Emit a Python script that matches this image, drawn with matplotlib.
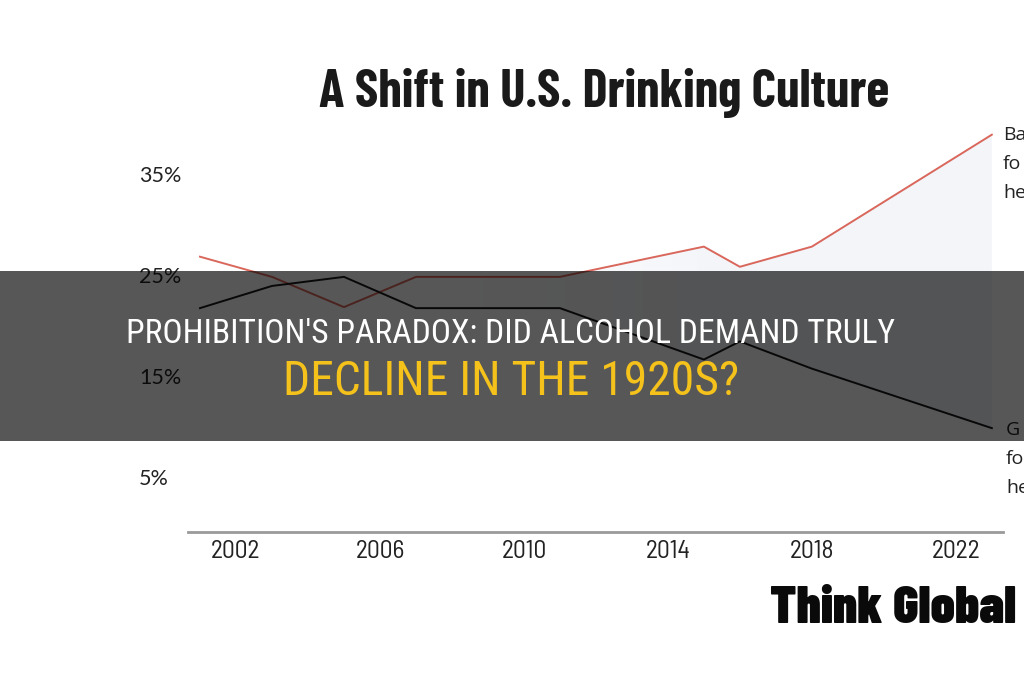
import matplotlib
matplotlib.use("Agg")
import matplotlib.pyplot as plt
import numpy as np
from matplotlib import font_manager
from matplotlib.patches import Rectangle
from matplotlib.colors import LinearSegmentedColormap

# ---- data ----
years = [2001, 2003, 2005, 2007, 2011, 2015, 2016, 2018, 2023]
red_values = [26.9, 24.9, 21.9, 24.9, 24.9, 27.9, 25.9, 27.9, 39.0]
black_values = [21.8, 24.0, 24.9, 21.8, 21.8, 16.7, 18.5, 15.8, 9.9]
x_ticks = [2002, 2006, 2010, 2014, 2018, 2022]
y_ticks = [5, 15, 25, 35]
y_tick_labels = ["5%", "15%", "25%", "35%"]
title = "A Shift in U.S. Drinking Culture"
upper_label = ["Ba", "fo", "he"]
lower_label = ["G", "fo", "he"]
banner_line1 = "PROHIBITION'S PARADOX: DID ALCOHOL DEMAND TRULY"
banner_line2 = "DECLINE IN THE 1920S?"
logo_fit = "Think Global"
logo_text = "Think Global Health"

names = {f.name for f in font_manager.fontManager.ttflist}

def pick(*fams):
    for f in fams:
        if f in names:
            return f
    return "DejaVu Sans"

F_TITLE = pick("Barlow Condensed", "Roboto Condensed", "Archivo Narrow")
F_BANNER = pick("Roboto Condensed", "Archivo Narrow", "Barlow Condensed")
F_TICK = pick("Barlow Semi Condensed", "Barlow Condensed", "Roboto Condensed")
F_LAB = pick("Open Sans", "Lato")
F_Y = pick("Lato", "Open Sans")

W, H = 1024, 680
fig = plt.figure(figsize=(W / 100, H / 100), dpi=100)
fig.patch.set_facecolor("white")
renderer = fig.canvas.get_renderer()

def fx(px):
    return px / W

def fy(py):
    return 1 - py / H

def fit(t, target_w):
    bb = t.get_window_extent(renderer)
    t.set_fontsize(t.get_fontsize() * target_w / bb.width)
    return t.get_fontsize()

# axes: x 188..1003 px, y 124.6..532 px
ax = fig.add_axes([fx(188), fy(532), fx(1003) - fx(188), fy(124.6) - fy(532)])
ax.set_xlim(2000.667, 2023.31)
ax.set_ylim(-0.4, 40)
ax.set_facecolor("none")

# light gradient fill between lines on the right
yrs = np.array(years, dtype=float)
poly = ax.fill_between(yrs, black_values, red_values, facecolor="none", edgecolor="none")
cmap = LinearSegmentedColormap.from_list("g", ["#ffffff", "#ffffff", "#f3f5f9", "#f3f5f9"])
grad = np.linspace(0, 1, 256).reshape(1, -1)
im = ax.imshow(grad, extent=[2000.667, 2023, 0, 40], aspect="auto", cmap=cmap, zorder=0.5)
im.set_clip_path(poly.get_paths()[0], transform=ax.transData)

ax.plot(years, red_values, color="#d9675c", lw=1.4, zorder=3)
ax.plot(years, black_values, color="#1a1a1a", lw=1.4, zorder=3)

for s in ["left", "right", "top"]:
    ax.spines[s].set_visible(False)
ax.spines["bottom"].set_color("#9a9a9a")
ax.spines["bottom"].set_linewidth(2)
ax.set_yticks([])

probe = fig.text(0, 0, "2002", fontsize=16, family=F_TICK)
tick_fs = fit(probe, 50)
probe.remove()
ax.set_xticks(x_ticks)
ax.set_xticklabels([str(v) for v in x_ticks], fontsize=tick_fs, family=F_TICK, color="#222222")
ax.tick_params(axis="x", length=0, pad=6)

for v, lab in zip(y_ticks, y_tick_labels):
    ypx = 175 + (35 - v) * 10.08
    fig.text(fx(139), fy(ypx + 7.5), lab, fontsize=15.5, family=F_Y, color="#222222",
             ha="left", va="baseline")

tt = fig.text(fx(604), fy(107), title, fontsize=32, family=F_TITLE, weight="bold",
              color="#1a1a1a", ha="center", va="baseline")
fit(tt, 572)

for i, t in enumerate(upper_label):
    fig.text(fx(1003), fy(135 + i * 29), t, fontsize=14, family=F_LAB,
             color="#222222", ha="left", va="center")
for i, t in enumerate(lower_label):
    fig.text(fx(1006), fy(430 + i * 29), t, fontsize=14, family=F_LAB,
             color="#222222", ha="left", va="center")

# banner overlay
fig.patches.append(Rectangle((0, fy(441)), 1, fy(271) - fy(441), transform=fig.transFigure,
                             facecolor="#000000", alpha=0.66, edgecolor="none", zorder=10))
b1 = fig.text(fx(510.5), fy(343), banner_line1, fontsize=19, family=F_BANNER, color="white",
              ha="center", va="baseline", zorder=11)
fit(b1, 765)
b2 = fig.text(fx(511.5), fy(395), banner_line2, fontsize=26, family=F_BANNER, color="#f5c21b",
              ha="center", va="baseline", zorder=11)
fit(b2, 457)

probe = fig.text(0, 0, logo_fit, fontsize=36, family=F_TITLE, weight=900)
logo_fs = fit(probe, 246)
probe.remove()
fig.text(fx(770), fy(623), logo_text, fontsize=logo_fs, family=F_TITLE, weight=900,
         color="#0a0a0a", ha="left", va="baseline")

fig.savefig("out.png", dpi=100)
